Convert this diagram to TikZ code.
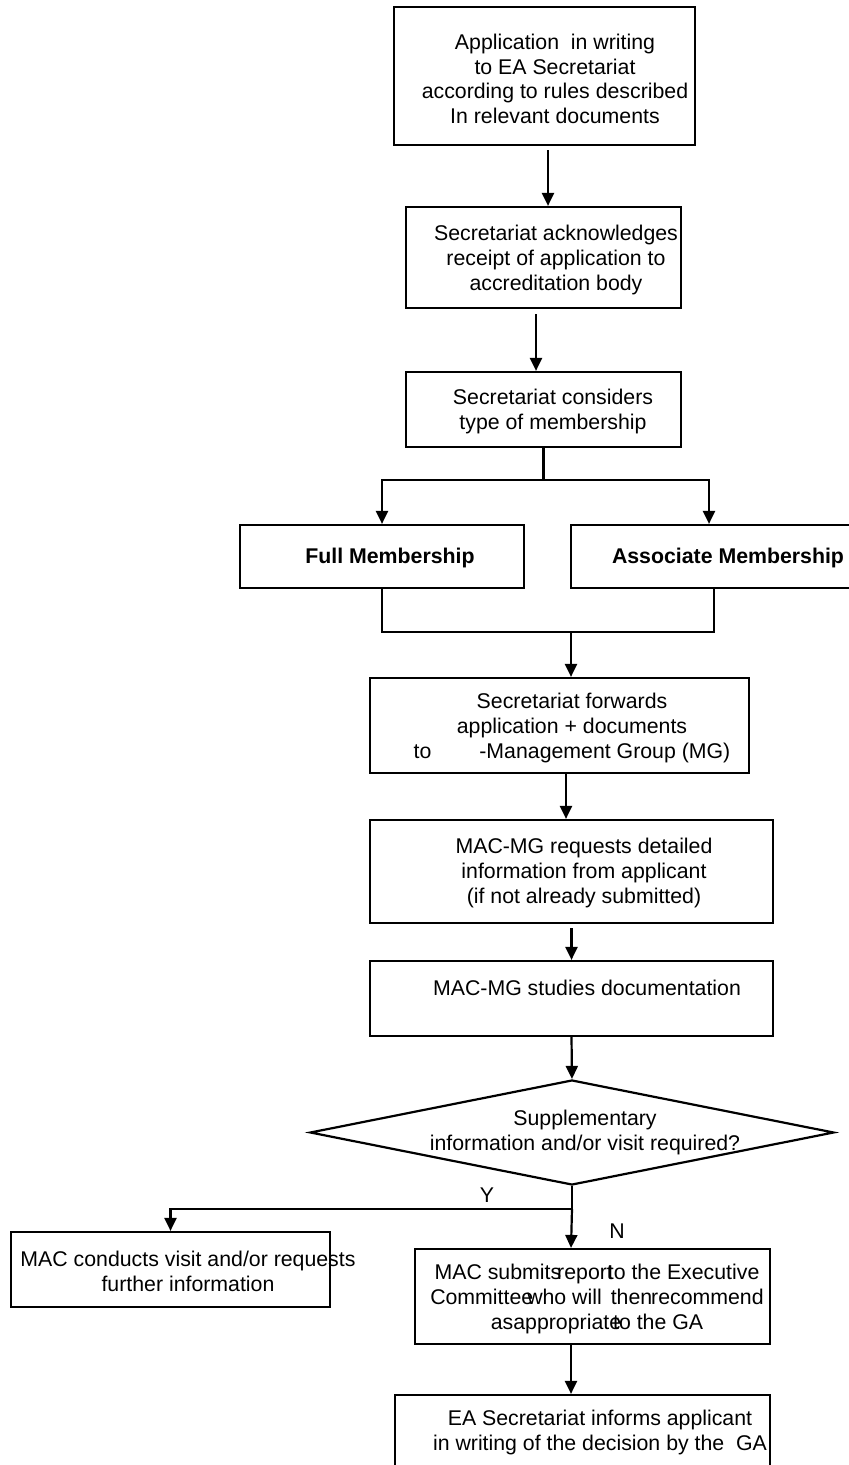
\documentclass[tikz,border=0pt]{standalone}
\usepackage{fontspec}
\setmainfont{Liberation Sans}
\usetikzlibrary{shapes.geometric,arrows.meta,positioning,calc}

\newcommand{\flowfont}{\fontsize{21.3}{24.7}\selectfont}

\begin{document}
\begin{tikzpicture}[
    x=1pt, y=-1pt,
    box/.style={rectangle, draw, line width=2.2pt, inner sep=0pt},
    decision/.style={diamond, draw, line width=2.2pt, inner sep=0pt},
    txt/.style={align=center, inner sep=0pt, font=\flowfont},
    arrow/.style={->, >={Triangle[length=13pt,width=12pt]}, line width=2.2pt},
    conn/.style={line width=2.2pt}
]
    \useasboundingbox (0,0) rectangle (849,1465);

    % Boxes
    \node[box, minimum width=301pt, minimum height=138pt] (app) at (544.5,76) {};
    \node[box, minimum width=275pt, minimum height=101pt] (ack) at (543.5,257.5) {};
    \node[box, minimum width=275pt, minimum height=75pt] (cons) at (543.5,409.5) {};
    \node[box, minimum width=284pt, minimum height=63pt] (full) at (382,556.5) {};
    \node[box, minimum width=314pt, minimum height=63pt] (assoc) at (728,556.5) {};
    \node[box, minimum width=379pt, minimum height=95pt] (fwd) at (559.5,725.5) {};
    \node[box, minimum width=403pt, minimum height=103pt] (req) at (571.5,871.5) {};
    \node[box, minimum width=403pt, minimum height=75pt] (study) at (571.5,998.5) {};
    \node[decision, minimum width=524pt, minimum height=105pt] (dec) at (572,1132.5) {};
    \node[box, minimum width=319pt, minimum height=75pt] (visit) at (170.5,1269.5) {};
    \node[box, minimum width=355pt, minimum height=95pt] (report) at (592.5,1296.5) {};
    \node[box, minimum width=375pt, minimum height=95pt] (inform) at (582.5,1442.5) {};

    % Texts
    \node[txt] (apptext) at (555,79) {Application\ \ in writing\\to EA Secretariat\\according to rules described\\In relevant documents};
    \node[txt] (acktext) at (556,260) {Secretariat acknowledges\\receipt of application to\\accreditation body};
    \node[txt] (constext) at (553,411.5) {Secretariat considers\\type of membership};
    \node[txt, font=\flowfont\bfseries] (fulltext) at (390,558) {Full Membership};
    \node[txt, font=\flowfont\bfseries] (assoctext) at (728,558) {Associate Membership};
    \node[txt] (fwdtext) at (572,728) {Secretariat forwards\\application + documents\\to\hspace{48pt}-Management Group (MG)};
    \node[txt] (reqtext) at (584,873) {MAC-MG requests detailed\\information from applicant\\(if not already submitted)};
    \node[txt] (studytext) at (587,988) {MAC-MG studies documentation};
    \node[txt] (dectext) at (585,1132.5) {Supplementary\\information and/or visit required?};
    \node[txt] (visittext) at (188,1271.5) {MAC conducts visit and/or requests\\further information};
    \node[txt] (reporttext) at (597,1299) {MAC submits\kern-4pt report\kern-5pt to the Executive\\Committee\kern-6pt who will\hspace{9pt}then\kern-1pt recommend\\asappropriate\kern-8pt to the GA};
    \node[txt] (informtext) at (600,1432.5) {EA Secretariat informs applicant\\in writing of the decision by the\ \ GA};
    \node[txt] (ylabel) at (487,1195) {Y};
    \node[txt] (nlabel) at (617,1231) {N};

    % Arrows
    \draw[arrow, shorten <=4pt] ([xshift=3.5pt]app.south) -- ([xshift=4.5pt]ack.north);
    \draw[arrow, shorten <=5pt] ([xshift=-7.5pt]ack.south) -- ([xshift=-7.5pt]cons.north);
    \draw[conn] (cons.south) -- ++(0,32) coordinate (split);
    \draw[arrow] (split) -| (full.north);
    \draw[arrow] (split) -| ([xshift=-19pt]assoc.north);
    \coordinate (merge) at (571,632);
    \draw[conn] (full.south) |- (merge) -| ([xshift=-14pt]assoc.south);
    \draw[arrow] (merge) -- ([xshift=11.5pt]fwd.north);
    \draw[arrow] ([xshift=6.5pt]fwd.south) -- ([xshift=-5.5pt]req.north);
    \draw[arrow, shorten <=4pt] (req.south) -- (study.north);
    \draw[arrow] (study.south) -- (dec.north);
    \draw[conn] (dec.south) -- ++(0,23) coordinate (yes);
    \draw[arrow] (yes) -| (visit.north);
    \draw[arrow] (yes) -- ([xshift=-21.5pt]report.north);
    \draw[arrow] ([xshift=-21.5pt]report.south) -- ([xshift=-11.5pt]inform.north);
\end{tikzpicture}
\end{document}
